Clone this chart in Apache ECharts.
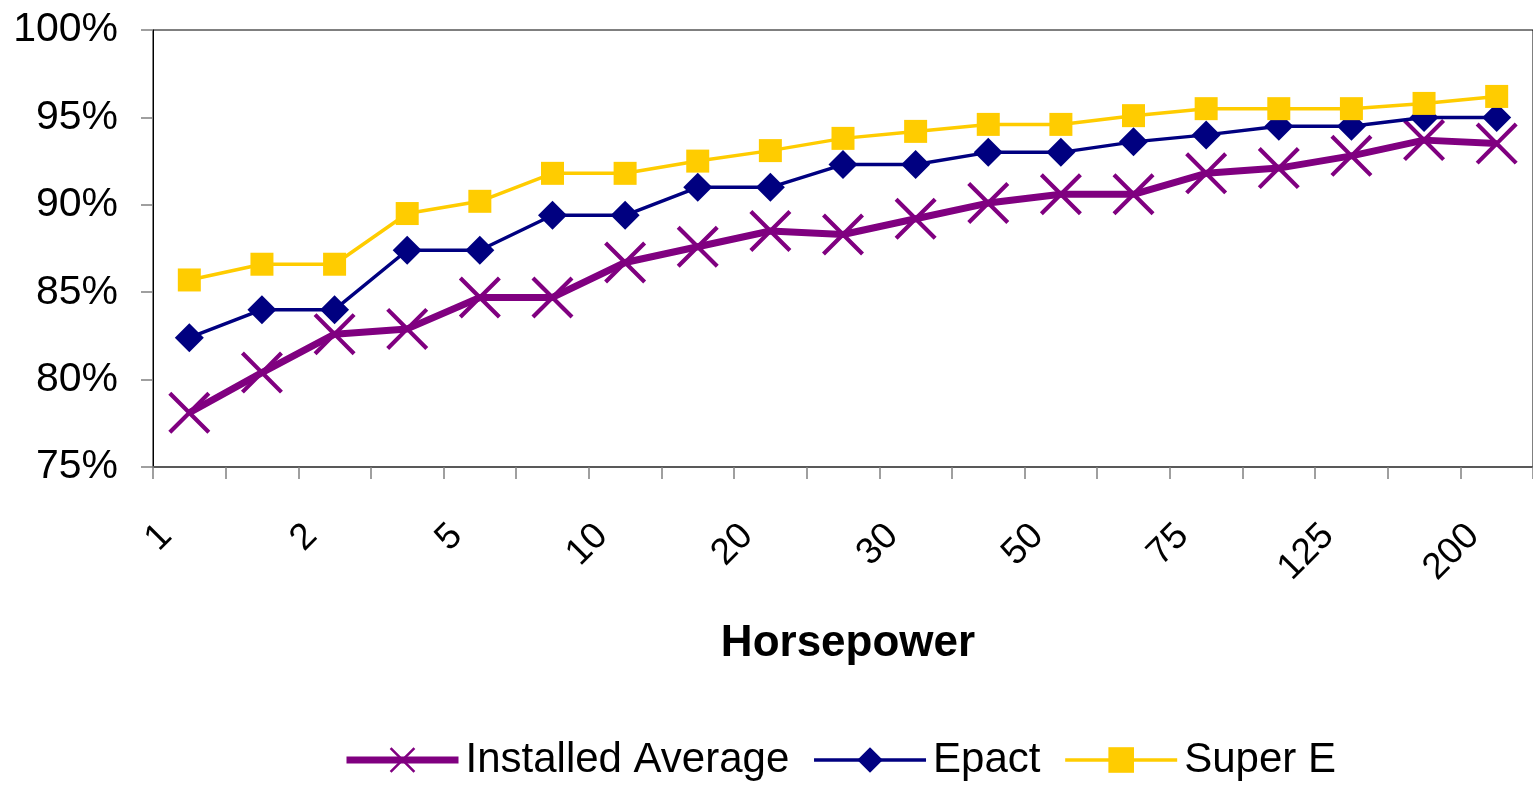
<!DOCTYPE html>
<html>
<head>
<meta charset="utf-8">
<script src="https://cdn.jsdelivr.net/npm/echarts@6/dist/echarts.min.js"></script>
<style>
html,body{margin:0;padding:0;background:#fff;}
#chart{width:1533px;height:785px;}
</style>
</head>
<body>
<div id="chart"></div>
<script>
const categories = ['1','1.5','2','3','5','7.5','10','15','20','25','30','40','50','60','75','100','125','150','200'];
const installedAverage = [78.1, 80.4, 82.6, 82.9, 84.7, 84.7, 86.7, 87.6, 88.5, 88.3, 89.2, 90.1, 90.6, 90.6, 91.8, 92.1, 92.8, 93.7, 93.5];
const epact = [82.4, 84.0, 84.0, 87.4, 87.4, 89.4, 89.4, 91.0, 91.0, 92.3, 92.3, 93.0, 93.0, 93.6, 94.0, 94.5, 94.5, 95.0, 95.0];
const superE = [85.7, 86.6, 86.6, 89.5, 90.2, 91.8, 91.8, 92.5, 93.1, 93.8, 94.2, 94.6, 94.6, 95.1, 95.5, 95.5, 95.5, 95.8, 96.2];
const yTicks = {min: 75, max: 100, step: 5};

const FONT = "'Liberation Sans', Arial, sans-serif";
// filled "X" cross marker outline
const X_PATH = 'path://M7,0L50,43L93,0L100,7L57,50L100,93L93,100L50,57L7,100L0,93L43,50L0,7Z';
const chart = echarts.init(document.getElementById('chart'), null, {renderer: 'canvas'});
chart.setOption({
  backgroundColor: '#ffffff',
  animation: false,
  grid: {left: 153, top: 30, width: 1389, height: 437, show: true, borderColor: '#000', borderWidth: 1, backgroundColor: 'transparent'},
  legend: {
    left: 343, top: 739, padding: 0,
    itemWidth: 112, itemHeight: 32, itemGap: 23,
    textStyle: {fontFamily: FONT, fontSize: 42, color: '#000', padding: [0, 0, 0, 2]},
    data: [
      {name: 'Installed Average', lineStyle: {width: 7, color: '#800080'}},
      {name: 'Epact', lineStyle: {width: 3.5, color: '#000080'}},
      {name: 'Super E', lineStyle: {width: 3.5, color: '#FFCC00'}}
    ]
  },
  xAxis: {
    type: 'category',
    data: categories,
    boundaryGap: true,
    name: 'Horsepower',
    nameLocation: 'middle',
    nameGap: 155,
    nameTextStyle: {fontFamily: FONT, fontSize: 44, fontWeight: 'bold', color: '#000', padding: [0, 0, 0, 10]},
    axisLine: {show: true, lineStyle: {color: '#595959', width: 2}},
    axisTick: {show: true, interval: 0, length: 12, lineStyle: {color: '#808080', width: 1.5}},
    axisLabel: {interval: 1, rotate: 45, margin: 40, fontFamily: FONT, fontSize: 37, color: '#000', padding: [0, 33, 0, 0]},
    splitLine: {show: false}
  },
  yAxis: {
    type: 'value',
    min: yTicks.min, max: yTicks.max, interval: yTicks.step,
    axisLine: {show: true, lineStyle: {color: '#000', width: 1}},
    axisTick: {show: true, length: 12, lineStyle: {color: '#808080', width: 1.5}},
    axisLabel: {formatter: '{value}%', margin: 35, fontFamily: FONT, fontSize: 41, color: '#000'},
    splitLine: {show: false}
  },
  series: [
    {
      name: 'Installed Average', type: 'line', data: installedAverage,
      symbol: X_PATH, symbolSize: 42,
      lineStyle: {color: '#800080', width: 7},
      itemStyle: {color: '#800080', borderWidth: 0},
      z: 2
    },
    {
      name: 'Epact', type: 'line', data: epact,
      symbol: 'diamond', symbolSize: 29,
      lineStyle: {color: '#000080', width: 3.5},
      itemStyle: {color: '#000080', borderWidth: 0},
      z: 3
    },
    {
      name: 'Super E', type: 'line', data: superE,
      symbol: 'rect', symbolSize: 23,
      lineStyle: {color: '#FFCC00', width: 3.5},
      itemStyle: {color: '#FFCC00', borderWidth: 0},
      z: 4
    }
  ]
});
</script>
</body>
</html>
